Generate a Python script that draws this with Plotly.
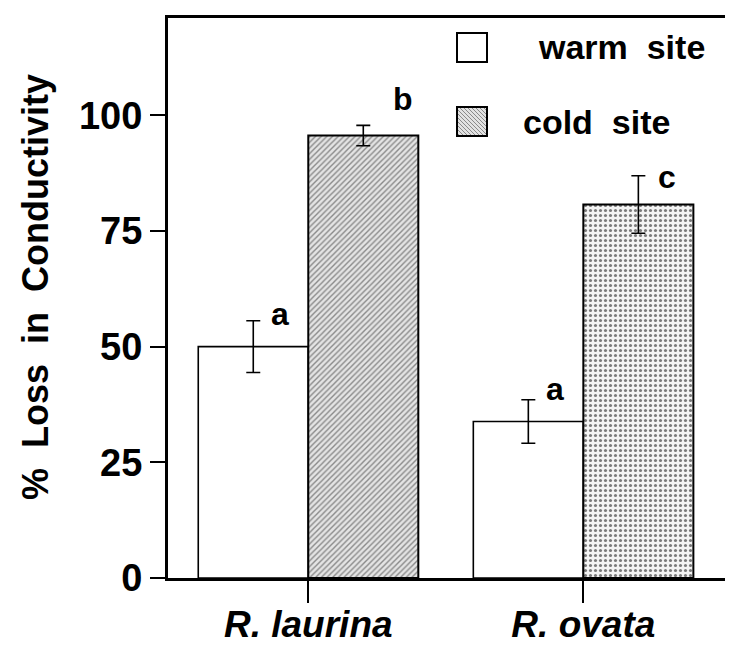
import plotly.graph_objects as go

# ---- data ----
species = ["R. laurina", "R. ovata"]
warm_vals = [50.0, 33.8]
warm_err = [5.6, 4.7]
cold_vals = [95.6, 80.7]
cold_err = [2.2, 6.2]
letters_warm = ["a", "a"]
letters_cold = ["b", "c"]
y_ticks = [0, 25, 50, 75, 100]
y_title = "%  Loss  in  Conductivity"

# page has an 8px body margin; figure is sized to fit the 733x646 window
OFF = 8
W, H = 733 - OFF, 646 - OFF
ML, MR, MT, MB = 168 - OFF, 8, 18 - OFF, 646 - 578
YMAX = 121.0

FONT = "Liberation Sans, Arial, Helvetica, sans-serif"

fig = go.Figure()
fig.add_trace(go.Bar(
    x=species, y=warm_vals, name="warm site",
    marker=dict(color="white", line=dict(color="black", width=1.6)),
    error_y=dict(type="data", array=warm_err, visible=True,
                 color="black", thickness=1.6, width=7),
    showlegend=False,
))
fig.add_trace(go.Bar(
    x=species, y=cold_vals, name="cold site",
    marker=dict(color="#e6e6e6",
                line=dict(color="black", width=2),
                pattern=dict(shape=["/", "."], fgcolor=["#8a8a8a", "#7a7a7a"],
                             bgcolor=["#e4e4e4", "#f4f4f4"],
                             size=[4, 5], solidity=[0.35, 0.3],
                             fillmode="replace")),
    error_y=dict(type="data", array=cold_err, visible=True,
                 color="black", thickness=1.6, width=7),
    showlegend=False,
))

# letter annotations (pixel offsets from top of error bar)
offs_warm = [(27, 7), (27, 11)]
offs_cold = [(40, 26), (29, -1)]
for i in range(len(species)):
    for vals, errs, lets, offs, dx in ((warm_vals, warm_err, letters_warm, offs_warm, -0.2),
                                        (cold_vals, cold_err, letters_cold, offs_cold, 0.2)):
        fig.add_annotation(
            x=i + dx, y=vals[i] + errs[i], xref="x", yref="y",
            text=lets[i], showarrow=False, xanchor="center", yanchor="middle",
            xshift=offs[i][0], yshift=offs[i][1],
            font=dict(family=FONT, size=32, color="black", weight="bold"),
        )

# ---- manual legend (positions given in page pixels) ----
PW, PH = W - ML - MR, H - MT - MB
def px(xp):
    return (xp - OFF - ML) / PW
def py(yp):
    return (H - MB - (yp - OFF)) / PH

fig.add_shape(type="rect", xref="paper", yref="paper",
              x0=px(457), x1=px(487), y0=py(62), y1=py(33),
              fillcolor="white", line=dict(color="black", width=2))
fig.add_shape(type="rect", xref="paper", yref="paper",
              x0=px(457), x1=px(487), y0=py(136), y1=py(107),
              fillcolor="#e2e2e2", line=dict(color="black", width=2))
segs = []
x0s, x1s, y0s, y1s = 458, 486, 108, 135
step = 4
for k in range(-30, 31, step):
    pts = []
    for xx in (x0s, x1s):
        yy = xx - x0s + y0s + k
        pts.append((xx, yy))
    (ax, ay), (bx, by) = pts
    if ay < y0s:
        ax += (y0s - ay); ay = y0s
    if by > y1s:
        bx -= (by - y1s); by = y1s
    if ax >= bx:
        continue
    segs.append(f"M{px(ax)},{py(ay)} L{px(bx)},{py(by)}")
fig.add_shape(type="path", xref="paper", yref="paper", path=" ".join(segs),
              line=dict(color="#8a8a8a", width=1))
fig.add_annotation(xref="paper", yref="paper", x=px(536), y=py(47),
                   text="warm  site", showarrow=False, xanchor="left", yanchor="middle",
                   font=dict(family=FONT, size=34, color="black", weight="bold"))
fig.add_annotation(xref="paper", yref="paper", x=px(521), y=py(122),
                   text="cold  site", showarrow=False, xanchor="left", yanchor="middle",
                   font=dict(family=FONT, size=34, color="black", weight="bold"))

# y-axis title as rotated annotation
fig.add_annotation(xref="paper", yref="paper", x=px(35), y=py(287),
                   text=y_title, textangle=-90, showarrow=False,
                   xanchor="center", yanchor="middle",
                   font=dict(family=FONT, size=36, color="black", weight="bold"))

fig.update_layout(
    width=W, height=H,
    margin=dict(l=ML, r=MR, t=MT, b=MB, pad=0, autoexpand=False),
    paper_bgcolor="white", plot_bgcolor="white",
    barmode="group", bargap=0.2, bargroupgap=0,
    font=dict(family=FONT, color="black"),
)
fig.update_xaxes(
    range=[-0.51, 1.515], showgrid=False, zeroline=False, automargin=False,
    showline=True, linecolor="black", linewidth=3, mirror=True,
    ticks="outside", ticklen=22, tickwidth=1.5, tickcolor="black",
    ticklabelstandoff=-10,
    tickfont=dict(family=FONT, size=37, color="black", weight="bold", style="italic"),
)
fig.update_yaxes(
    range=[0, YMAX], showgrid=False, zeroline=False, automargin=False,
    showline=True, linecolor="black", linewidth=3, mirror="ticks",
    tickmode="array", tickvals=y_ticks, ticktext=[str(v) for v in y_ticks],
    ticks="outside", ticklen=15, tickwidth=2, tickcolor="black",
    tickfont=dict(family=FONT, size=38, color="black", weight="bold"),
)

fig.write_html("out.html")
